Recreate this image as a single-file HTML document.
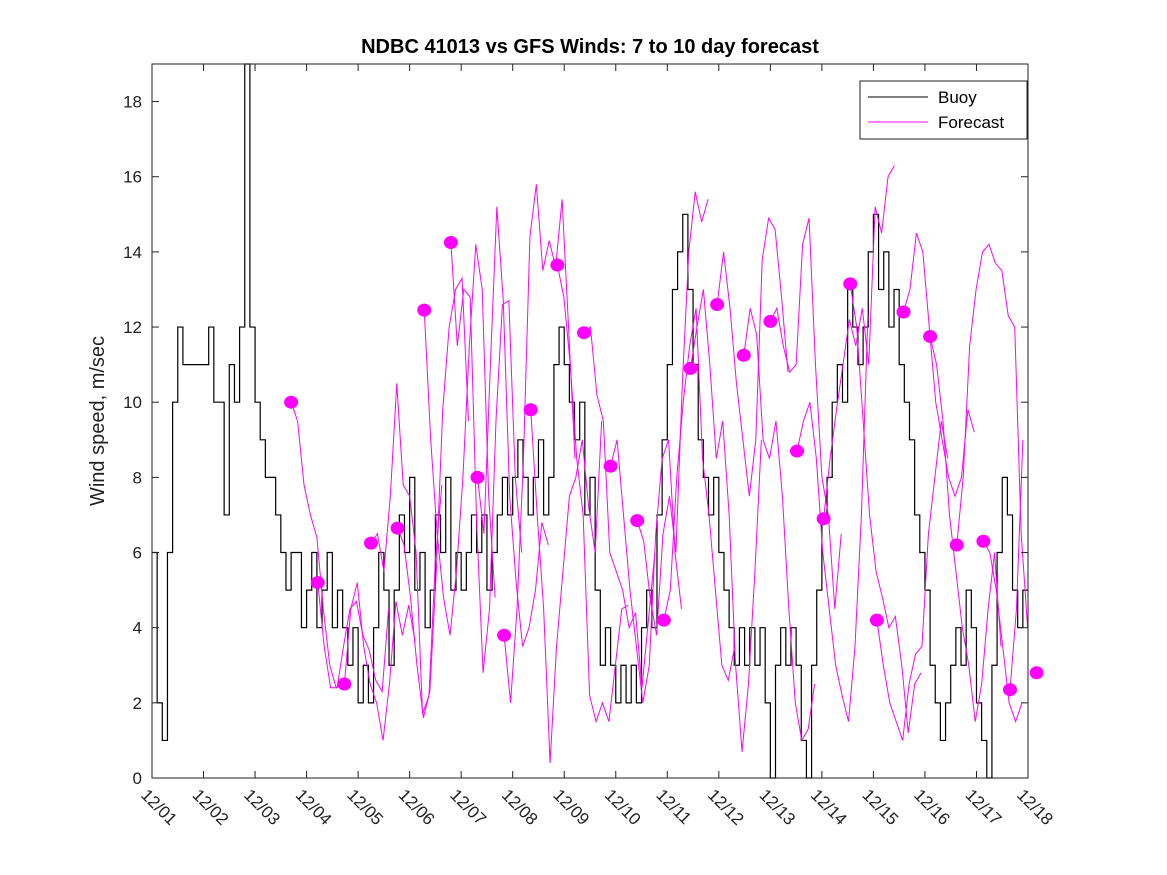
<!DOCTYPE html>
<html><head><meta charset="utf-8"><style>
body{margin:0;background:#fff}
svg{display:block;font-family:"Liberation Sans","DejaVu Sans",sans-serif}
</style></head><body>
<svg id="chart" width="1167" height="875">
<rect width="1167" height="875" fill="#fff"/>
<text x="590" y="53" text-anchor="middle" font-size="20" font-weight="bold">NDBC 41013 vs GFS Winds: 7 to 10 day forecast</text>
<text transform="translate(104,421) rotate(-90)" text-anchor="middle" font-size="20" fill="#222">Wind speed, m/sec</text>
<g id="grid"></g>
<g id="buoy"></g>
<g id="fc"></g>
<g id="dots"></g>
<rect x="152" y="64" width="876" height="714" fill="none" stroke="#222" stroke-width="1"/>
<g id="axes"></g>
<g>
<rect x="860" y="81" width="167" height="58" fill="#fff" stroke="#222"/>
<line x1="868" y1="97" x2="928" y2="97" stroke="#000"/>
<text x="938" y="103" font-size="17">Buoy</text>
<line x1="868" y1="122" x2="928" y2="122" stroke="#f0f"/>
<text x="938" y="128" font-size="17">Forecast</text>
</g>
</svg>
<script>
const xTicks=["12/01","12/02","12/03","12/04","12/05","12/06","12/07","12/08","12/09","12/10","12/11","12/12","12/13","12/14","12/15","12/16","12/17","12/18"];
const yTicks=[0,2,4,6,8,10,12,14,16,18];
const buoyStep=0.1;
const buoy=[6,2,1,6,10,12,11,11,11,11,
11,12,10,10,7,11,10,12,19,12,
10,9,8,8,7,6,5,6,6,4,
5,6,4,5,6,4,5,4,3,4,
2,3,2,4,6,5,3,5,7,6,
8,5,6,4,5,7,6,8,5,6,
5,6,7,6,7,5,6,7,8,7,
8,9,8,7,8,9,7,8,11,12,
11,10,9,10,7,8,5,3,4,3,
2,3,2,3,2,4,5,4,7,9,
11,13,14,15,13,11,9,8,7,8,
6,5,4,3,4,3,4,3,4,2,
0,3,4,3,4,3,1,0,3,5,
7,8,10,11,10,13,12,11,12,14,
15,13,14,12,13,11,10,9,7,6,
5,3,2,1,2,3,4,3,5,4,
2,1,0,3,6,8,7,5,4,5,5];
const fcStart=2.7, fcSpacing=0.5167, fcStep=0.125;
const fc0=[10,9.5,7.8,7.0,6.4,4.5,3.0,2.4,2.5,2.6];
const fc1=[5.2,3.5,2.4,2.4,3.5,4.5,4.7,3.8,3.4,2.6,2.3,4.5];
const fc2=[2.5,4.5,5.2,3.5,2.5,2.0,1.0,2.5,4.7,3.8,4.6,3.6];
const fc3=[6.25,6.5,5.5,7.5,10.5,7.8,7.5,6.0,1.7,2.2,5.8,7.8];
const fc4=[6.65,6.2,4.8,3.0,1.6,2.3,5.5,9.8,12.0,13.0,13.3,9.5];
const fc5=[12.45,9.0,6.5,4.8,3.8,5.5,8.0,11.5,14.2,13.0,7.5,4.8];
const fc6=[14.25,11.5,13.0,12.8,6.8,2.8,4.5,9.5,12.6,12.7,8.0,6.0];
const fc7=[8.0,6.5,11.0,15.2,12.7,7.5,5.2,3.5,4.0,5.0,6.8,6.2];
const fc8=[3.8,2.0,4.5,8.5,14.4,15.8,13.5,14.3,13.6,15.4,12.0,8.5];
const fc9=[9.8,7.0,4.5,0.4,3.5,5.5,7.5,8.0,9.0,7.2,6.0,9.5];
const fc10=[13.65,12.8,11.0,8.5,7.0,2.2,1.5,2.0,1.5,3.0,4.5,4.6];
const fc11=[11.85,12.0,10.2,9.5,6.0,5.5,5.0,4.0,4.4,2.4,4.2,6.0];
const fc12=[8.3,9.0,7.0,5.0,3.5,2.0,3.0,6.5,8.5,9.0,6.0,4.5];
const fc13=[6.85,6.3,4.8,3.8,6.5,7.5,6.0,10.5,14.0,15.6,14.8,15.4];
const fc14=[4.2,5.0,8.0,10.0,11.5,12.5,8.5,7.0,5.0,3.0,2.6,3.5];
const fc15=[10.9,12.0,13.0,11.0,8.5,9.5,7.0,3.0,0.7,2.5,5.5,9.0];
const fc16=[12.6,14.0,12.5,10.5,9.0,7.5,9.0,13.8,14.9,14.6,12.8,10.8];
const fc17=[11.25,12.5,11.8,9.0,8.5,9.5,7.5,4.5,2.0,1.0,1.3,2.5];
const fc18=[12.15,12.5,11.5,10.8,11.0,14.2,14.9,11.0,8.0,7.0,4.5,6.5];
const fc19=[8.7,9.5,10.0,8.5,6.0,4.5,3.0,2.2,1.5,3.5,7.0,12.3];
const fc20=[6.9,8.5,9.8,11.0,12.2,11.5,12.5,11.0,15.2,14.5,16.0,16.3];
const fc21=[13.15,12.0,9.5,7.0,5.5,4.8,4.0,4.3,3.0,1.2,2.5,2.8];
const fc22=[4.2,3.0,2.0,1.5,1.0,2.5,3.3,3.5,6.5,8.0,9.5,8.5];
const fc23=[12.4,13.0,14.5,14.0,12.0,10.0,9.0,8.0,7.5,8.0,9.8,9.2];
const fc24=[11.75,11.0,9.5,7.0,5.5,4.0,3.0,1.5,2.5,4.5,6.0,3.5];
const fc25=[6.2,8.0,11.5,13.0,14.0,14.2,13.7,13.5,12.3,12.0,6.5,4.0];
const fc26=[6.3,6.0,5.0,3.5,2.0,1.5,2.0,3.0,1.8,1.0,2.8,3.2];
const fc27=[2.35,4.5,9.0,13.5,15.1,13.3,13.0,11.2,14.6,14.7,14.0,13.2];
const fc28=[2.8,3.2,3.3,6.0,7.3,6.5,4.5,2.6,2.5,3.2,6.0,8.5];
const forecasts=[fc0,fc1,fc2,fc3,fc4,fc5,fc6,fc7,fc8,fc9,fc10,fc11,fc12,fc13,fc14,fc15,fc16,fc17,fc18,fc19,fc20,fc21,fc22,fc23,fc24,fc25,fc26,fc27,fc28];

const NS="http://www.w3.org/2000/svg";
const X0=152,X1=1028,Y0=778,Y1=64,DAYS=17,YMAX=19;
const xs=t=>X0+(X1-X0)*t/DAYS;
const ys=v=>Y0-(Y0-Y1)*v/YMAX;
function mk(tag,attrs,parent){const e=document.createElementNS(NS,tag);for(const k in attrs)e.setAttribute(k,attrs[k]);parent.appendChild(e);return e;}

const axes=document.getElementById('axes');
yTicks.forEach(v=>{
  const y=ys(v);
  const t=mk('line',{x1:X0,x2:X0+7,y1:y,y2:y,stroke:'#222'},axes);
  
  
  const t2=mk('line',{x1:X1,x2:X1-7,y1:y,y2:y,stroke:'#222'},axes);
  
  
  const l=mk('text',{x:X0-10,y:y+6,'text-anchor':'end','font-size':'17',fill:'#222'},axes);
  l.textContent=v;
  
  
});
xTicks.forEach((s,i)=>{
  const x=xs(i);
  const t=mk('line',{x1:x,x2:x,y1:Y0,y2:Y0-7,stroke:'#222'},axes);
  
  
  const t2=mk('line',{x1:x,x2:x,y1:Y1,y2:Y1+7,stroke:'#222'},axes);
  
  
  const l=mk('text',{transform:`translate(${x-12},${Y0+18}) rotate(45)`,'font-size':'17',fill:'#222'},axes);
  l.textContent=s;
  
  
});

let d='';
buoy.forEach((v,i)=>{
  const xa=xs(i*buoyStep),xb=xs(Math.min((i+1)*buoyStep,DAYS)),y=ys(v);
  d+=(i===0?`M${xa},${y}`:`L${xa},${y}`)+`L${xb},${y}`;
});
const bp=mk('path',{d:d,fill:'none',stroke:'#000','stroke-width':'1.2'},document.getElementById('buoy'));



const fcg=document.getElementById('fc'),dg=document.getElementById('dots');
forecasts.forEach((arr,k)=>{
  const t0=fcStart+k*fcSpacing;
  let pd='';
  arr.forEach((v,i)=>{const t=t0+i*fcStep;if(t>DAYS)return;pd+=(pd?'L':'M')+xs(t)+','+ys(v);});
  if(pd){
    const p=mk('path',{d:pd,fill:'none',stroke:'#f0f','stroke-width':'1'},fcg);
    
    
  }
  const c=mk('ellipse',{cx:xs(t0),cy:ys(arr[0]),rx:7,ry:6.5,fill:'#f0f'},dg);
  
  
});
</script>
</body></html>
